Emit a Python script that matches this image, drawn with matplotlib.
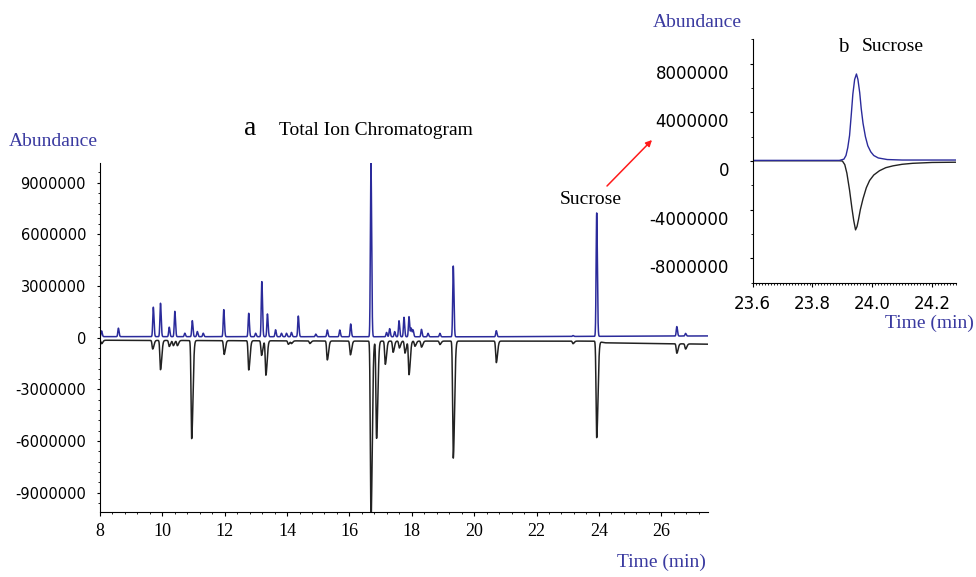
import numpy as np
import matplotlib.pyplot as plt
from matplotlib.ticker import MultipleLocator, FuncFormatter, FormatStrFormatter
from matplotlib.transforms import ScaledTranslation

plt.rcParams['axes.unicode_minus'] = False

# --- (a) total ion chromatogram, peaks (min, abundance in millions)
blue_t = [8.05, 8.59, 9.71, 9.94, 10.22, 10.40, 10.72, 10.96, 11.12, 11.31, 11.97, 12.77,
          12.99, 13.19, 13.37, 13.63, 13.82, 13.98, 14.14, 14.36, 14.92, 15.29, 15.69, 16.04,
          16.69, 17.19, 17.29, 17.45, 17.59, 17.75, 17.91, 17.98, 18.04, 18.31, 18.52, 18.90,
          19.33, 20.71, 23.17, 23.93, 26.50, 26.78]
blue_h = [0.33, 0.49, 1.71, 1.94, 0.55, 1.47, 0.2, 0.93, 0.3, 0.2, 1.57, 1.36,
          0.2, 3.2, 1.32, 0.4, 0.2, 0.2, 0.25, 1.2, 0.15, 0.39, 0.39, 0.74,
          10.2, 0.25, 0.47, 0.3, 0.93, 1.13, 1.17, 0.5, 0.39, 0.43, 0.2, 0.2,
          4.11, 0.35, 0.05, 7.17, 0.55, 0.15]

black_t = [8.05, 9.69, 9.94, 10.22, 10.35, 10.48, 10.94, 11.98, 12.77, 13.18, 13.32, 14.04,
           14.14, 14.73, 15.29, 16.03, 16.69, 16.87, 17.15, 17.40, 17.60, 17.78, 17.91, 18.10,
           18.31, 18.90, 19.33, 20.71, 23.17, 23.93, 26.50, 26.78]
black_d = [0.2, 0.5, 1.7, 0.35, 0.3, 0.3, 5.7, 0.8, 1.7, 0.85, 2.0, 0.2,
           0.15, 0.15, 1.1, 0.8, 10.5, 5.65, 1.35, 0.65, 0.4, 0.7, 1.95, 0.3,
           0.35, 0.2, 6.8, 1.25, 0.15, 5.6, 0.55, 0.3]

# baselines (min, millions)
blue_base_t = [8.0, 20.0, 27.5]
blue_base_v = [0.06, 0.05, 0.1]
black_base_t = [8.0, 16.5, 23.9, 24.2, 27.5]
black_base_v = [-0.15, -0.2, -0.2, -0.3, -0.38]

# --- (b) sucrose peak, sampled off the inset (min, millions)
suc_blue_t = [23.60, 23.89, 23.905, 23.912, 23.918, 23.924, 23.930, 23.935, 23.941, 23.947,
              23.952, 23.958, 23.963, 23.969, 23.977, 23.985, 23.995, 24.005, 24.02, 24.05,
              24.10, 24.28]
suc_blue_v = [0.05, 0.05, 0.15, 0.45, 1.1, 2.1, 3.9, 5.5, 6.7, 7.15,
              6.7, 5.6, 4.3, 3.1, 2.0, 1.25, 0.75, 0.45, 0.25, 0.12,
              0.08, 0.08]
suc_black_t = [23.60, 23.89, 23.900, 23.908, 23.915, 23.924, 23.932, 23.938, 23.944, 23.949,
               23.954, 23.960, 23.969, 23.980, 23.991, 24.005, 24.024, 24.045, 24.069, 24.10,
               24.135, 24.20, 24.28]
suc_black_v = [0.02, 0.02, 0.0, -0.3, -1.0, -2.4, -3.9, -4.9, -5.66, -5.38,
               -4.8, -4.0, -3.1, -2.2, -1.6, -1.15, -0.8, -0.55, -0.4, -0.27,
               -0.19, -0.12, -0.1]

BLUE = '#2b2b9b'
TXT_BLUE = '#3a3aa0'
SERIF = 'Liberation Serif'


def trace(t, base_t, base_v, centers, heights, s_left, s_right):
    y = np.interp(t, base_t, base_v)
    for c, h in zip(centers, heights):
        s = np.where(t < c, s_left, s_right)
        y = y + h * np.exp(-0.5 * ((t - c) / s) ** 2)
    return y * 1e6


fig = plt.figure(figsize=(9.76, 5.77), dpi=100)
W, H = 976.0, 577.0

# main panel
ax = fig.add_axes([100 / W, 1 - 512.3 / H, 608 / W, 349.3 / H])
t = np.arange(8.0, 27.5, 0.002)
ax.plot(t, trace(t, black_base_t, black_base_v, black_t, -np.array(black_d), 0.02, 0.04),
        color='#222222', lw=1.1)
ax.plot(t, trace(t, blue_base_t, blue_base_v, blue_t, blue_h, 0.018, 0.022),
        color=BLUE, lw=1.1)
ax.set_xlim(8, 27.5)
ax.set_ylim(-10.15e6, 10.15e6)
for s in ['top', 'right']:
    ax.spines[s].set_visible(False)
ax.xaxis.set_major_locator(MultipleLocator(2))
ax.xaxis.set_minor_locator(MultipleLocator(0.4))
ax.yaxis.set_major_locator(MultipleLocator(3e6))
ax.yaxis.set_minor_locator(MultipleLocator(6e5))
ax.yaxis.set_major_formatter(FuncFormatter(lambda v, p: '%d' % round(v)))
ax.tick_params(axis='x', which='major', length=3, pad=5, labelsize=13)
ax.tick_params(axis='x', which='minor', length=1.5)
ax.tick_params(axis='y', which='major', length=2, pad=8, labelsize=10.5)
ax.tick_params(axis='y', which='minor', length=1.2)
for lab in ax.get_xticklabels():
    lab.set_fontfamily(SERIF)

# inset panel
ax2 = fig.add_axes([752.7 / W, 1 - 282.7 / H, 203.3 / W, 243.4 / H])
ax2.plot(suc_black_t, np.array(suc_black_v) * 1e6, color='#222222', lw=1.0)
ax2.plot(suc_blue_t, np.array(suc_blue_v) * 1e6, color=BLUE, lw=1.0)
ax2.set_xlim(23.6, 24.28)
ax2.set_ylim(-10e6, 10e6)
for s in ['top', 'right']:
    ax2.spines[s].set_visible(False)
ax2.xaxis.set_major_locator(MultipleLocator(0.2))
ax2.xaxis.set_minor_locator(MultipleLocator(0.01))
ax2.xaxis.set_major_formatter(FormatStrFormatter('%.1f'))
ax2.yaxis.set_major_locator(MultipleLocator(4e6))
ax2.yaxis.set_minor_locator(MultipleLocator(2e6))
ax2.yaxis.set_major_formatter(FuncFormatter(lambda v, p: '%d' % round(v)))
ax2.tick_params(axis='x', which='major', length=3, pad=6, labelsize=12)
ax2.tick_params(axis='x', which='minor', length=1.5)
ax2.tick_params(axis='y', which='major', length=2, pad=15, labelsize=12)
ax2.tick_params(axis='y', which='minor', length=1.5)
ax2.set_yticks([-8e6, -4e6, 0, 4e6, 8e6])
shift = ScaledTranslation(0, -8 / 100, fig.dpi_scale_trans)
for lab in ax2.get_yticklabels():
    lab.set_transform(lab.get_transform() + shift)

# texts
fig.text(9 / W, 1 - 146 / H, 'Abundance', family=SERIF, fontsize=14, color=TXT_BLUE,
         va='baseline')
fig.text(244 / W, 1 - 135 / H, 'a', family=SERIF, fontsize=20, va='baseline')
fig.text(279 / W, 1 - 135 / H, 'Total Ion Chromatogram', family=SERIF, fontsize=14,
         va='baseline')
fig.text(560 / W, 1 - 204 / H, 'Sucrose', family=SERIF, fontsize=14, va='baseline')
fig.text(617 / W, 1 - 566.5 / H, 'Time (min)', family=SERIF, fontsize=14, color=TXT_BLUE,
         va='baseline')
fig.text(652.7 / W, 1 - 26.7 / H, 'Abundance', family=SERIF, fontsize=14, color=TXT_BLUE,
         va='baseline')
fig.text(838 / W, 1 - 51.7 / H, 'b', family=SERIF, fontsize=15, va='baseline')
fig.text(861.7 / W, 1 - 50.7 / H, 'Sucrose', family=SERIF, fontsize=14, va='baseline')
fig.text(974 / W, 1 - 328.3 / H, 'Time (min)', family=SERIF, fontsize=14, color=TXT_BLUE,
         va='baseline', ha='right')

fig.add_artist(plt.Annotation('', xy=(652 / W, 1 - 140 / H), xytext=(607 / W, 1 - 186 / H),
                              xycoords='figure fraction', textcoords='figure fraction',
                              arrowprops=dict(arrowstyle='-|>', color='#ff1a1a', lw=1.1,
                                              mutation_scale=9, shrinkA=0, shrinkB=0)))

fig.savefig('out.png', dpi=100)
